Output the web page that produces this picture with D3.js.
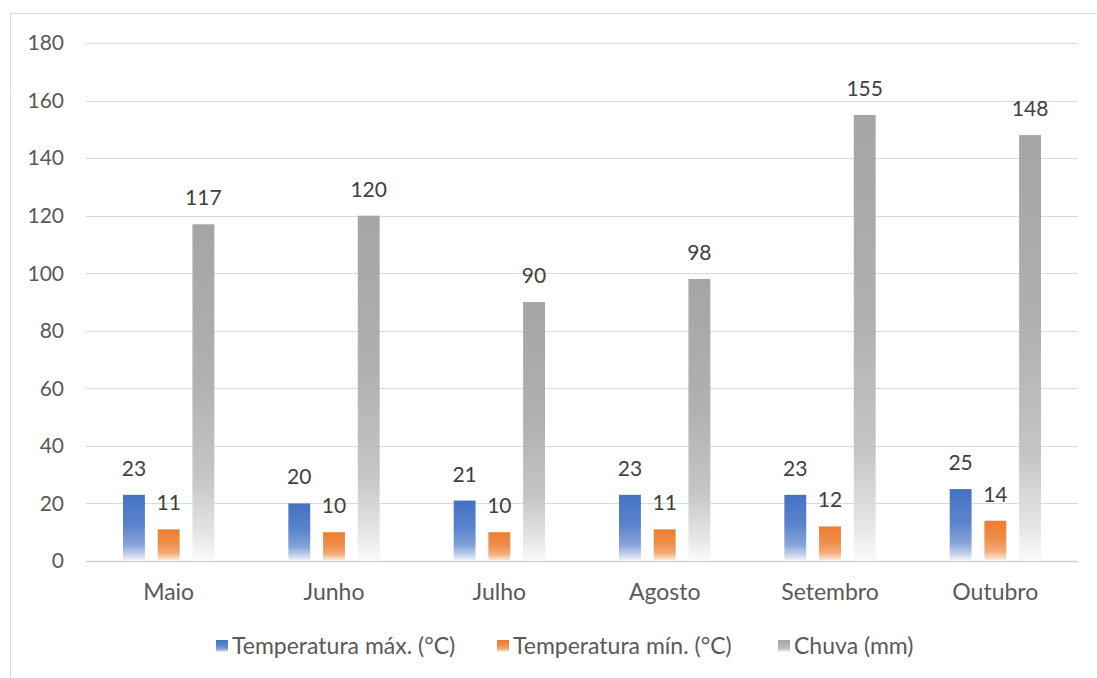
<!DOCTYPE html>
<html><head><meta charset="utf-8">
<script src="https://cdn.jsdelivr.net/npm/d3@7"></script>
<style>body{margin:0;background:#fff}svg{display:block}text{font-family:Lato,"Open Sans",sans-serif}</style>
</head><body>
<script>
const months = ["Maio","Junho","Julho","Agosto","Setembro","Outubro"];
const tempMax = [23,20,21,23,23,25];
const tempMin = [11,10,10,11,12,14];
const chuva = [117,120,90,98,155,148];
const seriesNames = ["Temperatura máx. (°C)","Temperatura mín. (°C)","Chuva (mm)"];
const seriesColors = ["#4472C4","#ED7D31","#A5A5A5"];
const yTicks = [0,20,40,60,80,100,120,140,160,180];

const W=1097,H=678;
const svg=d3.select("body").append("svg").attr("width",W).attr("height",H);
svg.append("rect").attr("x",10.5).attr("y",13.5).attr("width",W).attr("height",H).attr("fill","#fff").attr("stroke","#d9d9d9");

const series=[tempMax,tempMin,chuva];
const defs=svg.append("defs");
seriesColors.forEach((c,i)=>{
  const g=defs.append("linearGradient").attr("id","g"+i).attr("x1",0).attr("y1",0).attr("x2",0).attr("y2",1);
  const mix=t=>d3.interpolateRgb(c,"#ffffff")(t);
  [[0,0],[0.45,0.12],[0.75,0.35],[0.92,0.72],[1,0.96]].forEach(([o,t])=>g.append("stop").attr("offset",o).attr("stop-color",mix(t)));
});

const y=d3.scaleLinear().domain([0,180]).range([561,43]);
const x0=d3.scaleBand().domain(months).range([86,1078]).paddingInner(0).paddingOuter(0);
const x1=d3.scaleBand().domain([0,1,2]).range([37,x0.bandwidth()-37]).paddingInner(13/22/1.6).paddingOuter(0);

svg.append("g").selectAll("line").data(yTicks).join("line")
 .attr("x1",86).attr("x2",1078).attr("y1",d=>Math.round(y(d))+0.5).attr("y2",d=>Math.round(y(d))+0.5)
 .attr("stroke",d=>d===0?"#d0d0d0":"#d9d9d9").attr("stroke-width",d=>d===0?1.5:1);
svg.append("g").selectAll("text").data(yTicks).join("text")
 .attr("x",64).attr("y",d=>y(d)).attr("dy","0.35em").attr("text-anchor","end")
 .attr("font-size",21).attr("fill","#595959").text(d=>d);

months.forEach((m,mi)=>{
  series.forEach((s,si)=>{
    const v=s[mi];
    const bx=x0(m)+x1(si);
    svg.append("rect").attr("x",bx).attr("y",y(v)).attr("width",x1.bandwidth()).attr("height",y(0)-y(v)).attr("fill",`url(#g${si})`);
    svg.append("text").attr("x",bx+x1.bandwidth()/2).attr("y",y(v)-19).attr("text-anchor","middle")
      .attr("font-size",21).attr("fill","#404040").text(v);
  });
  svg.append("text").attr("x",x0(m)+x0.bandwidth()/2).attr("y",600).attr("text-anchor","middle")
    .attr("font-size",23).attr("fill","#595959").text(m);
});

const legX=[216,497,778];
seriesNames.forEach((n,i)=>{
  svg.append("rect").attr("x",legX[i]).attr("y",640).attr("width",12).attr("height",12).attr("fill",`url(#g${i})`);
  svg.append("text").attr("x",legX[i]+16).attr("y",654).attr("font-size",23).attr("fill","#595959").text(n);
});
</script>
</body></html>
